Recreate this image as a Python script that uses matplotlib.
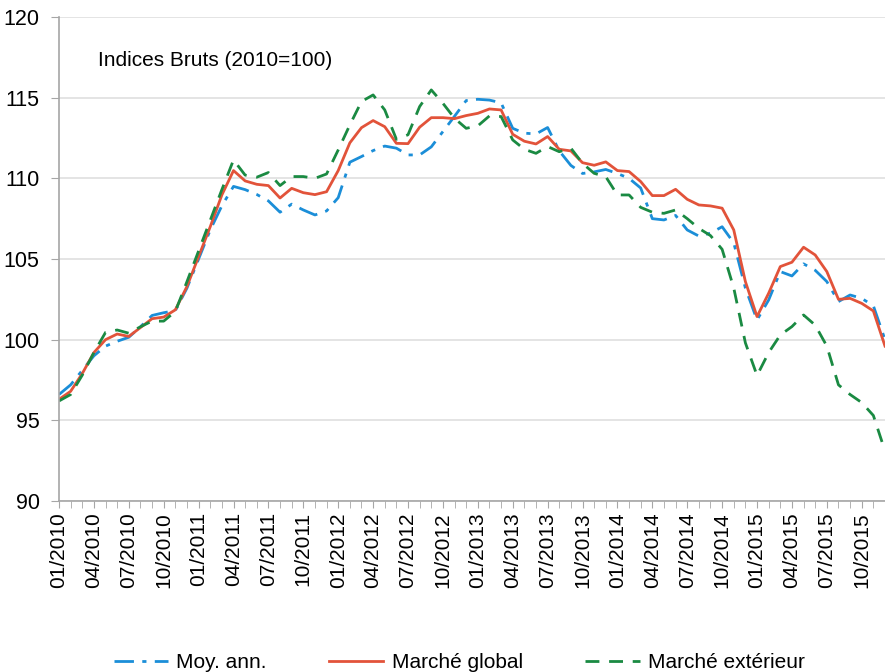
import matplotlib
matplotlib.use("Agg")
import matplotlib.pyplot as plt
from matplotlib.ticker import MultipleLocator
import numpy as np

plt.rcParams['font.family'] = ['Liberation Sans', 'DejaVu Sans']

# indices mensuels 01/2010 -> 12/2015
months = [f"{m:02d}/{y}" for y in range(2010, 2016) for m in range(1, 13)]

moy_ann = [96.6, 97.2, 98.1, 99.0, 99.6, 99.9, 100.15, 100.8, 101.5, 101.67, 101.8, 103.2,
           105.0, 106.8, 108.3, 109.5, 109.3, 109.0, 108.6, 107.9, 108.4, 108.04, 107.73, 107.98,
           108.8, 111.0, 111.35, 111.72, 112.0, 111.87, 111.45, 111.45, 111.95, 112.9, 113.85, 114.82,
           114.9, 114.85, 114.68, 113.1, 112.8, 112.75, 113.15, 111.7, 110.8, 110.3, 110.4, 110.55,
           110.3, 110.0, 109.4, 107.5, 107.42, 107.7, 106.8, 106.42, 106.6, 107.0, 106.0, 103.2,
           101.22, 102.46, 104.22, 103.95, 104.7, 104.3, 103.6, 102.36, 102.77, 102.56, 102.1, 100.0]

marche_global = [96.3, 96.8, 97.9, 99.2, 100.0, 100.35, 100.2, 100.75, 101.3, 101.4, 101.85, 103.3,
                 105.15, 107.0, 108.97, 110.48, 109.84, 109.63, 109.55, 108.78, 109.38, 109.11, 108.99, 109.17,
                 110.48, 112.2, 113.14, 113.58, 113.2, 112.17, 112.15, 113.17, 113.76, 113.76, 113.7, 113.89,
                 114.03, 114.3, 114.24, 112.73, 112.3, 112.13, 112.59, 111.8, 111.7, 110.97, 110.81, 111.02,
                 110.48, 110.42, 109.8, 108.93, 108.93, 109.32, 108.7, 108.35, 108.29, 108.15, 106.8, 103.6,
                 101.43, 102.88, 104.53, 104.8, 105.73, 105.25, 104.22, 102.5, 102.56, 102.25, 101.78, 99.6]

marche_ext = [96.2, 96.6, 97.8, 99.2, 100.45, 100.6, 100.4, 100.8, 101.15, 101.15, 101.75, 103.6,
              105.5, 107.4, 109.3, 111.14, 110.2, 110.07, 110.36, 109.55, 110.11, 110.11, 110.0, 110.27,
              111.76, 113.31, 114.76, 115.17, 114.24, 112.42, 112.7, 114.45, 115.48, 114.65, 113.72, 113.1,
              113.25, 113.87, 113.83, 112.38, 111.8, 111.55, 111.97, 111.65, 111.87, 110.93, 110.31, 110.1,
              108.97, 108.97, 108.2, 107.9, 107.83, 108.04, 107.5, 106.9, 106.45, 105.6, 103.2, 99.8,
              97.78, 99.2, 100.29, 100.81, 101.53, 100.9, 99.6, 97.2, 96.6, 96.1, 95.3, 93.1]

x = np.arange(len(months))

fig = plt.figure(figsize=(8.85, 6.72), dpi=100)
ax = fig.add_axes([59 / 885, 1 - 501 / 672, 1 - 59 / 885, (501 - 17) / 672])

ax.plot(x, moy_ann, color='#1B8ED8', lw=2, dashes=(7, 3, 1.5, 3), label='Moy. ann.')
ax.plot(x, marche_global, color='#E2533A', lw=2, label='Marché global')
ax.plot(x, marche_ext, color='#1A8A42', lw=2, dashes=(5, 3.5), label='Marché extérieur')

ax.set_ylim(90, 120)
ax.set_xlim(0, (885 - 59) / 11.7)
ax.yaxis.set_major_locator(MultipleLocator(5))
ax.grid(axis='y', color='#DCDCDC', lw=1.1)
ax.set_axisbelow(True)

ax.set_xticks(x[::3])
ax.set_xticklabels(months[::3], rotation=90, fontsize=15)
ax.set_xticks(x, minor=True)
ax.tick_params(axis='x', which='both', length=5, color='#A6A6A6', pad=3)
ax.tick_params(axis='y', length=6, color='#A6A6A6', labelsize=15.5, pad=8)

for s in ['top', 'right']:
    ax.spines[s].set_visible(False)
for s in ['left', 'bottom']:
    ax.spines[s].set_color('#A6A6A6')
    ax.spines[s].set_linewidth(1.2)

ax.text(98 / 885, 1 - 60 / 672, 'Indices Bruts (2010=100)', transform=fig.transFigure,
        fontsize=15, va='center', ha='left')

fig.legend(loc='center', bbox_to_anchor=(0.519, 0.014), ncol=3, frameon=False,
           fontsize=15, handlelength=2.6, handletextpad=0.4, columnspacing=3.0)

fig.savefig('out.png', dpi=100)
